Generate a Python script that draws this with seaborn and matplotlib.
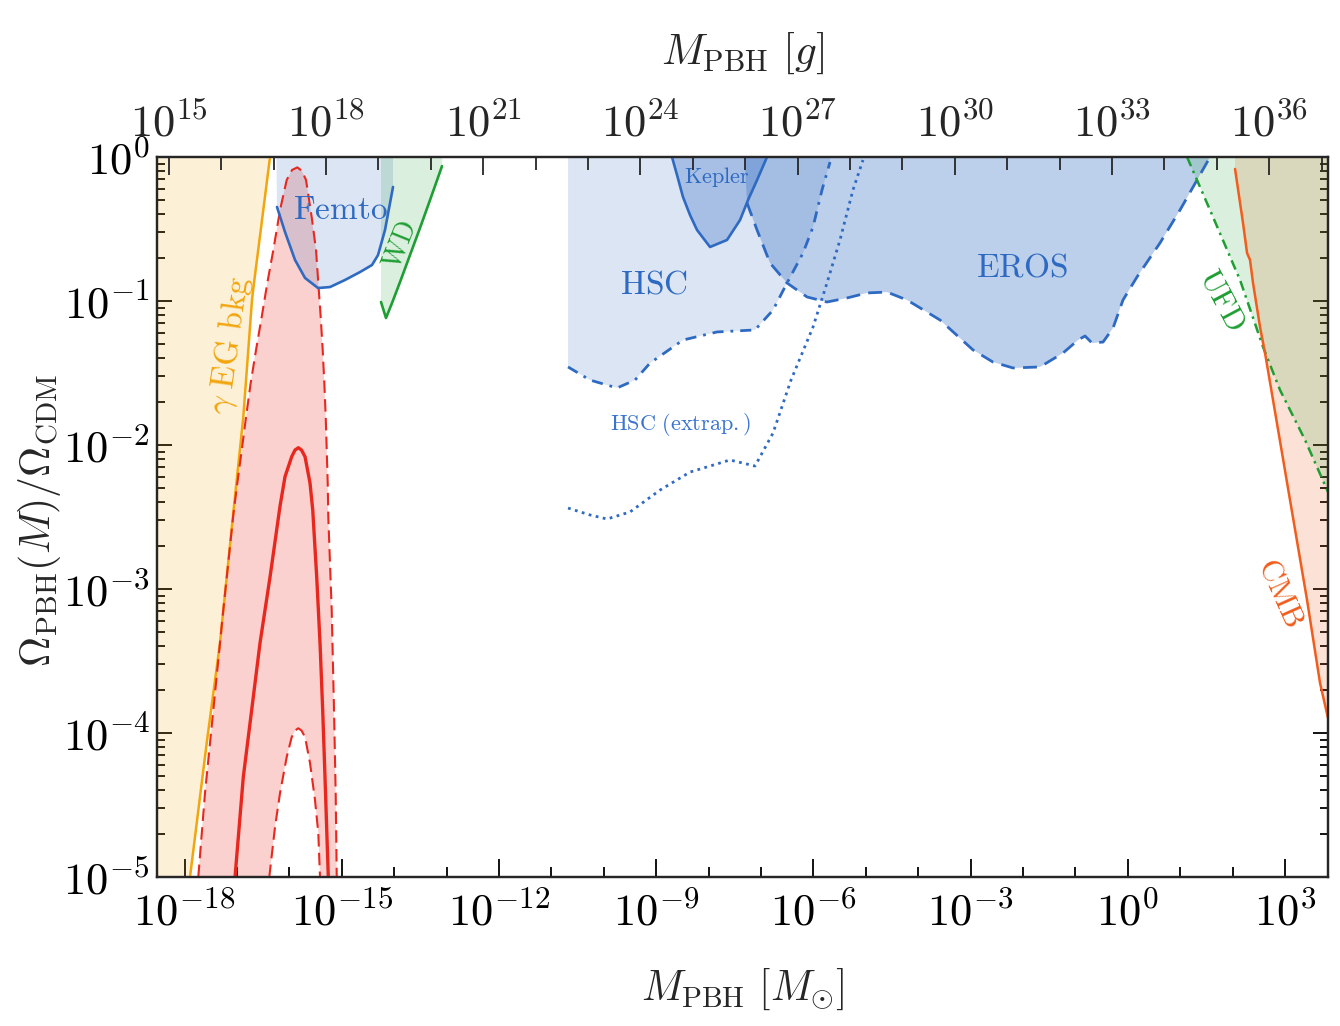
import numpy as np
import matplotlib
matplotlib.use("Agg")
import matplotlib.pyplot as plt
import seaborn as sns
from matplotlib.ticker import FixedLocator, FuncFormatter, LogLocator, NullFormatter

MSUN_G = 1.989e33

# ---- data (log10 M/Msun , log10 f) ----
gamma_logM = [-16.368, -16.521, -16.674, -16.712, -16.878, -17.069, -17.323, -17.576, -17.895]
gamma_logf = [0.0, -0.438, -0.875, -0.993, -1.806, -2.472, -3.375, -4.069, -5.0]

pbh_mid_logM = [-17.036, -16.878, -16.718, -16.559, -16.368, -16.177, -16.082, -15.954, -15.891, -15.828,
                -15.767, -15.700, -15.605, -15.553, -15.477, -15.414, -15.363, -15.319, -15.256]
pbh_mid_logf = [-5.0, -4.306, -3.840, -3.375, -2.917, -2.424, -2.220, -2.081, -2.035, -2.019,
                -2.035, -2.081, -2.264, -2.451, -2.917, -3.375, -3.840, -4.306, -5.0]

pbh_hi_logM = [-17.737, -17.609, -17.450, -17.260, -17.069, -16.992, -16.908, -16.826, -16.737, -16.635,
               -16.527, -16.420, -16.305, -16.177, -16.050, -15.948, -15.847, -15.758, -15.681, -15.573,
               -15.490, -15.447, -15.401, -15.363, -15.332, -15.305, -15.286, -15.267, -15.256, -15.191,
               -15.147, -15.115, -15.095]
pbh_hi_logf = [-5.0, -4.417, -3.840, -3.146, -2.486, -2.264, -2.035, -1.806, -1.569, -1.340,
               -1.111, -0.875, -0.646, -0.368, -0.160, -0.090, -0.072, -0.097, -0.160, -0.417,
               -0.646, -0.875, -1.111, -1.340, -1.569, -1.806, -2.035, -2.264, -2.500, -3.146,
               -3.840, -4.417, -5.0]

pbh_lo_logM = [-16.382, -16.273, -16.177, -16.050, -15.954, -15.891, -15.828, -15.767, -15.700, -15.605,
               -15.510, -15.447, -15.414]
pbh_lo_logf = [-5.0, -4.653, -4.417, -4.167, -4.028, -3.983, -3.967, -3.983, -4.028, -4.208,
               -4.465, -4.694, -5.0]

femto_logM = [-16.235, -16.082, -15.891, -15.700, -15.452, -15.223, -14.937, -14.651, -14.422, -14.307, -14.174, -14.021]
femto_logf = [-0.347, -0.521, -0.715, -0.840, -0.910, -0.903, -0.854, -0.799, -0.750, -0.681, -0.507, -0.208]

wd_logM = [-14.250, -14.155, -14.040, -13.887, -13.697, -13.506, -13.315, -13.200, -13.086]
wd_logf = [-1.007, -1.118, -1.014, -0.868, -0.681, -0.493, -0.299, -0.181, -0.063]

hsc_logM = [-10.681, -10.261, -9.746, -9.403, -9.116, -8.487, -7.838, -7.113, -6.769, -6.502, -6.197, -6.006, -5.834, -5.681]
hsc_logf = [-1.458, -1.549, -1.604, -1.549, -1.431, -1.271, -1.215, -1.201, -1.063, -0.875, -0.667, -0.486, -0.229, -0.035]

hscx_logM = [-10.681, -10.261, -9.937, -9.498, -8.926, -8.353, -7.590, -7.113, -6.769, -6.426, -6.006, -5.739, -5.491, -5.243, -5.052]
hscx_logf = [-2.438, -2.486, -2.514, -2.465, -2.313, -2.188, -2.104, -2.146, -1.917, -1.549, -1.181, -0.875, -0.576, -0.229, -0.021]

kepler_logM = [-8.697, -8.601, -8.487, -8.353, -8.219, -7.971, -7.647, -7.399, -7.246, -7.074, -6.884]
kepler_logf = [0.0, -0.125, -0.278, -0.403, -0.507, -0.625, -0.576, -0.438, -0.299, -0.160, 0.0]

eros_logM = [-7.265, -7.074, -6.826, -6.502, -6.120, -5.739, -5.357, -4.975, -4.594, -4.212, -3.582, -2.952, -2.571,
             -2.189, -1.674, -1.235, -0.948, -0.815, -0.681, -0.471, -0.281, -0.090, 0.177, 0.616, 0.998, 1.322, 1.571]
eros_logf = [-0.319, -0.507, -0.736, -0.875, -0.972, -1.007, -0.979, -0.944, -0.938, -0.993, -1.132, -1.340, -1.424,
             -1.465, -1.458, -1.361, -1.271, -1.243, -1.292, -1.285, -1.188, -0.993, -0.833, -0.597, -0.368, -0.160, 0.0]

ufd_logM = [1.132, 1.628, 2.143, 2.582, 2.906, 3.384, 3.822]
ufd_logf = [0.0, -0.417, -0.854, -1.319, -1.618, -1.965, -2.326]

cmb_logM = [2.048, 2.200, 2.277, 2.334, 2.391, 2.525, 2.620, 2.773, 3.097, 3.422, 3.670, 3.822]
cmb_logf = [-0.083, -0.458, -0.667, -0.715, -0.875, -1.181, -1.361, -1.688, -2.382, -3.076, -3.653, -3.896]

x_lo, x_hi = -18.525, 3.822
y_lo, y_hi = -5.0, 0.0

bottom_major = list(range(-18, 4, 3))
bottom_minor = list(range(-19, 5))
top_major = list(range(15, 37, 3))
top_minor = list(range(14, 39))

# ---- style ----
sns.set_style("ticks")
plt.rcParams["mathtext.fontset"] = "cm"
plt.rcParams["font.family"] = ["DejaVu Serif"]

fig = plt.figure(figsize=(13.4, 10.26), dpi=100)
ax = fig.add_axes([157 / 1340, 1 - 877 / 1026, 1171 / 1340, 720 / 1026])
ax.set_xscale("log")
ax.set_yscale("log")
ax.set_xlim(10 ** x_lo, 10 ** x_hi)
ax.set_ylim(10 ** y_lo, 10 ** y_hi)

P = lambda a: 10.0 ** np.asarray(a, dtype=float)

ORANGE = "#F2A50C"
RED = "#E8281E"
BLUE = "#2F6AC2"
GREEN = "#1E9E33"
CMBC = "#F25C1C"

TOP = y_hi + 0.5
# ---- fills ----
gx = [x_lo - 0.5] + gamma_logM[::-1] + [gamma_logM[0], x_lo - 0.5]
gy = [y_lo] + gamma_logf[::-1] + [TOP, TOP]
ax.fill(P(gx), P(gy), color=ORANGE, alpha=0.16, lw=0, zorder=1)

rx = pbh_hi_logM + pbh_lo_logM[::-1]
ry = pbh_hi_logf + pbh_lo_logf[::-1]
ax.fill(P(rx), P(ry), color=RED, alpha=0.21, lw=0, zorder=1)

fx = femto_logM + [femto_logM[-1], femto_logM[0] - 0.03]
fy = femto_logf + [TOP, TOP]
ax.fill(P(fx), P(fy), color=BLUE, alpha=0.17, lw=0, zorder=1)

wx = wd_logM + [wd_logM[-1] + 0.05, wd_logM[0]]
wy = wd_logf + [TOP, TOP]
ax.fill(P(wx), P(wy), color=GREEN, alpha=0.155, lw=0, zorder=1)

hx = hsc_logM + [hsc_logM[-1], hsc_logM[0]]
hy = hsc_logf + [TOP, TOP]
ax.fill(P(hx), P(hy), color=BLUE, alpha=0.17, lw=0, zorder=1)

kx = kepler_logM + [kepler_logM[-1], kepler_logM[0]]
ky = kepler_logf + [TOP, TOP]
ax.fill(P(kx), P(ky), color=BLUE, alpha=0.30, lw=0, zorder=1)

ex = [eros_logM[0] - 0.12] + eros_logM + [eros_logM[-1]]
ey = [TOP] + eros_logf + [TOP]
ax.fill(P(ex), P(ey), color=BLUE, alpha=0.32, lw=0, zorder=1)

cx = [cmb_logM[0]] + cmb_logM + [x_hi + 0.5, x_hi + 0.5]
cy = [TOP] + cmb_logf + [cmb_logf[-1], TOP]
ax.fill(P(cx), P(cy), color=CMBC, alpha=0.175, lw=0, zorder=1)

ux = ufd_logM + [x_hi + 0.5, x_hi + 0.5, ufd_logM[0]]
uy = ufd_logf + [ufd_logf[-1], TOP, TOP]
ax.fill(P(ux), P(uy), color=GREEN, alpha=0.155, lw=0, zorder=1)

# ---- lines (seaborn) ----
def line(lm, lf, color, lw, ls="-"):
    sns.lineplot(x=P(lm), y=P(lf), ax=ax, sort=False, estimator=None,
                 color=color, lw=lw, linestyle=ls, zorder=3)

line(gamma_logM, gamma_logf, ORANGE, 1.8)
line(pbh_mid_logM, pbh_mid_logf, RED, 2.4)
line(pbh_hi_logM, pbh_hi_logf, RED, 1.5, (0, (6, 3)))
line(pbh_lo_logM, pbh_lo_logf, RED, 1.5, (0, (6, 3)))
line(femto_logM, femto_logf, BLUE, 1.9)
line(wd_logM, wd_logf, GREEN, 1.9)
line(hsc_logM, hsc_logf, BLUE, 2.0, (0, (4, 2.5, 1, 2.5)))
line(hscx_logM, hscx_logf, BLUE, 2.0, (0, (1, 1.6)))
line(kepler_logM, kepler_logf, BLUE, 1.9)
line(eros_logM, eros_logf, BLUE, 2.0, (0, (5, 3)))
line(ufd_logM, ufd_logf, GREEN, 1.8, (0, (4, 2, 1, 2)))
line(cmb_logM, cmb_logf, CMBC, 1.8)

# ---- labels inside ----
def lab(lm, lf, s, color, size, rot=0):
    ax.text(10 ** lm, 10 ** lf, s, color=color, fontsize=size, rotation=rot,
            ha="center", va="center", rotation_mode="anchor", zorder=4)

lab(-17.132, -1.306, r"$\gamma\ \mathrm{EG\ bkg}$", ORANGE, 24, 82)
lab(-15.032, -0.368, r"$\mathrm{Femto}$", BLUE, 24)
lab(-13.887, -0.611, r"$\mathrm{WD}$", GREEN, 20, 68)
lab(-9.040, -0.882, r"$\mathrm{HSC}$", BLUE, 24)
lab(-7.838, -0.139, r"$\mathrm{Kepler}$", BLUE, 16)
lab(-8.525, -1.861, r"$\mathrm{HSC\ (extrap.)}$", "#3A74D0", 16)
lab(-2.017, -0.764, r"$\mathrm{EROS}$", BLUE, 24)
lab(1.800, -0.993, r"$\mathrm{UFD}$", GREEN, 22, -62)
lab(2.926, -3.021, r"$\mathrm{CMB}$", CMBC, 22, -66)

# ---- axes formatting ----
fmt = FuncFormatter(lambda v, p: r"$10^{%d}$" % int(round(np.log10(v))))

ax.xaxis.set_major_locator(FixedLocator(P(bottom_major)))
ax.xaxis.set_minor_locator(FixedLocator(P(bottom_minor)))
ax.xaxis.set_major_formatter(fmt)
ax.xaxis.set_minor_formatter(NullFormatter())
ax.yaxis.set_major_locator(FixedLocator(P(range(-5, 1))))
ax.yaxis.set_minor_locator(LogLocator(base=10, subs=np.arange(2, 10), numticks=20))
ax.yaxis.set_major_formatter(fmt)
ax.yaxis.set_minor_formatter(NullFormatter())

ax.tick_params(which="both", direction="in", top=False, right=True, width=1.3, colors="black")
ax.tick_params(axis="x", which="major", length=13, labelsize=32, pad=10)
ax.tick_params(axis="x", which="minor", length=7)
ax.tick_params(axis="y", which="major", length=11, labelsize=32, pad=5)
ax.tick_params(axis="y", which="minor", length=6)
for sp in ax.spines.values():
    sp.set_linewidth(1.6)
    sp.set_visible(True)

ax2 = ax.twiny()
ax2.set_xscale("log")
ax2.set_xlim(10 ** x_lo * MSUN_G, 10 ** x_hi * MSUN_G)
ax2.xaxis.set_major_locator(FixedLocator(P(top_major)))
ax2.xaxis.set_minor_locator(FixedLocator(P(top_minor)))
ax2.xaxis.set_major_formatter(fmt)
ax2.xaxis.set_minor_formatter(NullFormatter())
ax2.tick_params(axis="x", which="both", direction="in", top=True, bottom=False, width=1.3)
ax2.tick_params(axis="x", which="major", length=13, labelsize=32, pad=8)
ax2.tick_params(axis="x", which="minor", length=9)
for sp in ax2.spines.values():
    sp.set_linewidth(1.6)

ax.set_xlabel(r"$M_{\mathrm{PBH}}\ [M_{\odot}]$", fontsize=30)
ax.xaxis.set_label_coords(0.5, -0.125)
ax.set_ylabel(r"$\Omega_{\mathrm{PBH}}(M)/\Omega_{\mathrm{CDM}}$", fontsize=30)
ax.yaxis.set_label_coords(-0.08, 0.496)
ax2.set_xlabel(r"$M_{\mathrm{PBH}}\ [g]$", fontsize=31)
ax2.xaxis.set_label_coords(0.5, 1.13)

fig.savefig("out.png", dpi=100)
